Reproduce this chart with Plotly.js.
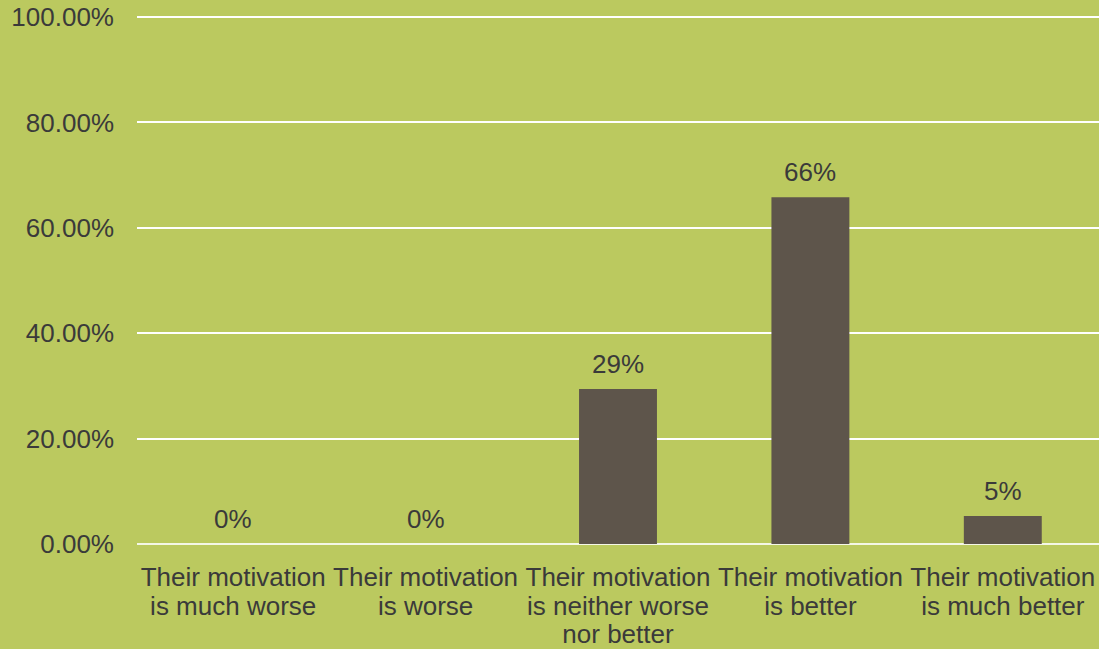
<!DOCTYPE html>
<html>
<head>
<meta charset="utf-8">
<script src="https://cdn.plot.ly/plotly-3.0.1.min.js"></script>
<style>
  html, body { margin: 0; padding: 0; background: #BBC95F; }
  #chart { width: 1099px; height: 649px; }
</style>
</head>
<body>
<div id="chart"></div>
<script>
const categories = [
  "Their motivation<br>is much worse",
  "Their motivation<br>is worse",
  "Their motivation<br>is neither worse<br>nor better",
  "Their motivation<br>is better",
  "Their motivation<br>is much better"
];
const values = [0, 0, 0.294, 0.658, 0.053];
const valueLabels = ["0%", "0%", "29%", "66%", "5%"];

const bg = "#BBC95F";
const textColor = "#3A3A3A";
const fontFamily = "Liberation Sans, Arial, sans-serif";

const trace = {
  type: "bar",
  x: categories,
  y: values,
  marker: { color: "#5E554B" },
  hoverinfo: "skip"
};

const annotations = categories.map((c, i) => ({
  x: c,
  y: values[i],
  xref: "x",
  yref: "y",
  text: valueLabels[i],
  showarrow: false,
  yanchor: "bottom",
  yshift: 8,
  font: { family: fontFamily, size: 26, color: textColor }
}));

const layout = {
  width: 1099,
  height: 649,
  paper_bgcolor: bg,
  plot_bgcolor: bg,
  margin: { l: 137, r: 0, t: 16, b: 105 },
  bargap: 0.595,
  showlegend: false,
  font: { family: fontFamily, size: 26, color: textColor },
  xaxis: {
    type: "category",
    showgrid: false,
    zeroline: false,
    showline: false,
    ticks: "",
    ticklabelstandoff: 15,
    tickfont: { family: fontFamily, size: 26, color: textColor },
    automargin: false
  },
  yaxis: {
    range: [0, 1.002],
    dtick: 0.2,
    tick0: 0,
    tickformat: ".2%",
    showgrid: true,
    gridcolor: "#FFFFFF",
    gridwidth: 2,
    zeroline: true,
    zerolinecolor: "#F4F7E6",
    zerolinewidth: 2,
    showline: false,
    ticks: "",
    ticklabelstandoff: 22,
    tickfont: { family: fontFamily, size: 26, color: textColor },
    automargin: false
  },
  annotations: annotations
};

Plotly.newPlot("chart", [trace], layout, { displayModeBar: false, staticPlot: true }).then(gd => {
  // tighten multi-line category label spacing to match the reference
  gd.querySelectorAll(".xtick text tspan.line").forEach(ts => {
    const dy = ts.getAttribute("dy");
    if (dy && parseFloat(dy) !== 0) {
      ts.setAttribute("dy", (parseFloat(dy) / 1.3 * 1.1).toFixed(3) + "em");
    }
  });
});
</script>
</body>
</html>
